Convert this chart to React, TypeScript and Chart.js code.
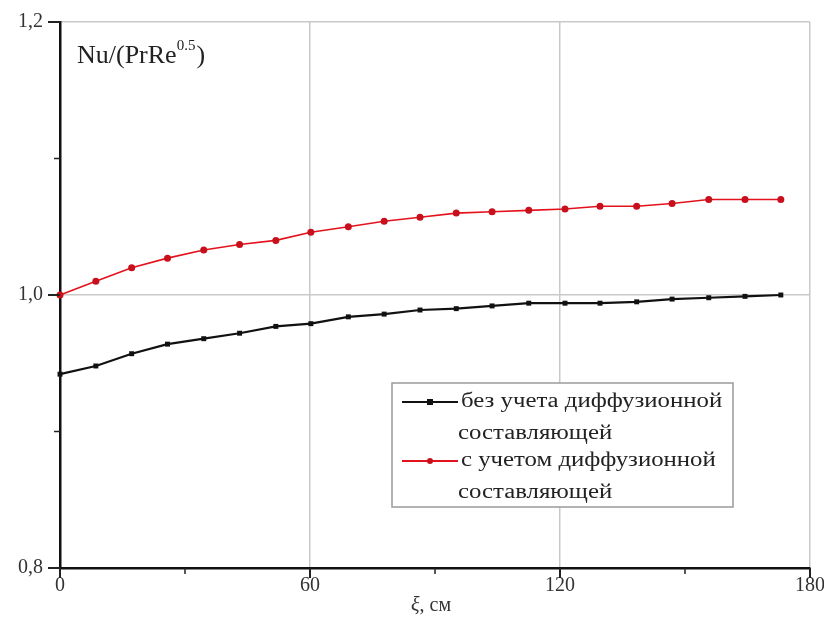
import React, { useEffect, useRef } from "react";
import { Chart, registerables } from "chart.js";

Chart.register(...registerables);

const xValues = [0, 8.6, 17.2, 25.8, 34.5, 43.1, 51.8, 60.2, 69.2, 77.8, 86.4, 95.1, 103.7, 112.5, 121.2, 129.6, 138.4, 146.9, 155.7, 164.4, 173];
const withoutDiffusion = [0.942, 0.948, 0.957, 0.964, 0.968, 0.972, 0.977, 0.979, 0.984, 0.986, 0.989, 0.990, 0.992, 0.994, 0.994, 0.994, 0.995, 0.997, 0.998, 0.999, 1.0];
const withDiffusion = [1.0, 1.010, 1.020, 1.027, 1.033, 1.037, 1.040, 1.046, 1.050, 1.054, 1.057, 1.060, 1.061, 1.062, 1.063, 1.065, 1.065, 1.067, 1.070, 1.070, 1.070];

const seriesNames = [
  ["без учета диффузионной", "составляющей"],
  ["с учетом диффузионной", "составляющей"],
];
const xMajorTicks = [0, 60, 120, 180];
const yMajorTicks = [0.8, 1.0, 1.2];
const xTitleItalic = "ξ";
const xTitleRest = ", см";
const yLabelMain = "Nu/(PrRe";
const yLabelSup = "0.5";
const yLabelEnd = ")";

const FONT = '"Liberation Serif", "Times New Roman", serif';
const BLACK = "#111111";
const RED = "#e3121d";
const GRID = "#c9c9c9";

const near = (a: number, list: number[]) => list.some((v) => Math.abs(v - a) < 1e-6);

const stretchText = (ctx: any, text: string, x: number, y: number, sx: number) => {
  ctx.save();
  ctx.translate(x, y);
  ctx.scale(sx, 1);
  ctx.fillText(text, 0, 0);
  ctx.restore();
};

const decor = {
  id: "decor",
  afterDraw(chart: any) {
    const ctx = chart.ctx;
    const xs = chart.scales.x;
    const ys = chart.scales.y;
    const area = chart.chartArea;
    ctx.save();
    // y ticks
    ctx.strokeStyle = "#222";
    ys.ticks.forEach((t: any) => {
      const py = ys.getPixelForValue(t.value);
      const major = near(t.value, yMajorTicks);
      ctx.lineWidth = major ? 2 : 1.5;
      ctx.beginPath();
      ctx.moveTo(area.left - (major ? 12 : 6), py);
      ctx.lineTo(area.left, py);
      ctx.stroke();
    });
    xs.ticks.forEach((t: any) => {
      const px = xs.getPixelForValue(t.value);
      const major = near(t.value, xMajorTicks);
      ctx.lineWidth = major ? 2 : 1.5;
      ctx.beginPath();
      ctx.moveTo(px, area.bottom);
      ctx.lineTo(px, area.bottom + (major ? 10 : 6));
      ctx.stroke();
    });

    // x title
    ctx.fillStyle = "#333";
    ctx.textBaseline = "middle";
    ctx.font = `italic 20px ${FONT}`;
    const w1 = ctx.measureText(xTitleItalic).width;
    ctx.font = `20px ${FONT}`;
    const w2 = ctx.measureText(xTitleRest).width;
    const cx = (area.left + area.right) / 2 - 4;
    const ty = 606;
    ctx.textAlign = "left";
    ctx.font = `italic 20px ${FONT}`;
    ctx.fillText(xTitleItalic, cx - (w1 + w2) / 2, ty);
    ctx.font = `20px ${FONT}`;
    ctx.fillText(xTitleRest, cx - (w1 + w2) / 2 + w1, ty);

    // y label inside plot
    ctx.fillStyle = "#222";
    ctx.textBaseline = "alphabetic";
    ctx.font = `26px ${FONT}`;
    let lx = area.left + 17;
    const ly = 63;
    ctx.fillText(yLabelMain, lx, ly);
    lx += ctx.measureText(yLabelMain).width;
    ctx.font = `15px ${FONT}`;
    ctx.fillText(yLabelSup, lx, ly - 13);
    lx += ctx.measureText(yLabelSup).width + 1;
    ctx.font = `26px ${FONT}`;
    ctx.fillText(yLabelEnd, lx, ly);

    // legend
    const bx = 392, by = 383, bw = 341, bh = 124;
    ctx.fillStyle = "#ffffff";
    ctx.fillRect(bx, by, bw, bh);
    ctx.strokeStyle = "#9a9a9a";
    ctx.lineWidth = 1.5;
    ctx.strokeRect(bx, by, bw, bh);
    const entries = [
      { color: BLACK, point: "rect", ly: 402, lines: seriesNames[0] },
      { color: RED, point: "circle", ly: 461, lines: seriesNames[1] },
    ];
    entries.forEach((e) => {
      ctx.strokeStyle = e.color;
      ctx.lineWidth = 2;
      ctx.beginPath();
      ctx.moveTo(402, e.ly);
      ctx.lineTo(458, e.ly);
      ctx.stroke();
      ctx.fillStyle = e.color === RED ? "#c80f1c" : BLACK;
      if (e.point === "rect") ctx.fillRect(427, e.ly - 3, 6, 6);
      else {
        ctx.beginPath();
        ctx.arc(430, e.ly, 3, 0, Math.PI * 2);
        ctx.fill();
      }
      ctx.fillStyle = "#222";
      ctx.font = `20px ${FONT}`;
      ctx.textBaseline = "middle";
      ctx.textAlign = "left";
      stretchText(ctx, e.lines[0], 461, e.ly, 1.24);
      stretchText(ctx, e.lines[1], 458, e.ly + 32, 1.24);
    });
    ctx.restore();
  },
};

export default function App() {
  const ref = useRef<HTMLCanvasElement | null>(null);
  useEffect(() => {
    document.body.style.margin = "0";
    const canvas = ref.current!;
    const chart = new Chart(canvas, {
      type: "line",
      data: {
        datasets: [
          {
            label: seriesNames[0].join(" "),
            data: xValues.map((x, i) => ({ x, y: withoutDiffusion[i] })),
            borderColor: BLACK,
            backgroundColor: BLACK,
            borderWidth: 2.2,
            pointStyle: "rect",
            pointRadius: 3.5,
            pointBorderWidth: 0,
            clip: false,
          },
          {
            label: seriesNames[1].join(" "),
            data: xValues.map((x, i) => ({ x, y: withDiffusion[i] })),
            borderColor: RED,
            backgroundColor: "#c80f1c",
            borderWidth: 1.6,
            pointStyle: "circle",
            pointRadius: 3.5,
            pointBorderWidth: 0,
            clip: false,
          },
        ],
      },
      options: {
        responsive: false,
        animation: false,
        layout: { padding: { top: 22, right: 14, left: 0, bottom: 0 } },
        plugins: { legend: { display: false }, tooltip: { enabled: false } },
        scales: {
          x: {
            type: "linear",
            min: 0,
            max: 180,
            afterFit: (s: any) => {
              s.height = 65;
              s.paddingLeft = 0;
              s.paddingRight = 0;
            },
            afterBuildTicks: (s: any) => {
              s.ticks = [0, 30, 60, 90, 120, 150, 180].map((v) => ({ value: v }));
            },
            ticks: {
              padding: 6,
              color: "#333",
              font: { family: FONT, size: 20 },
              maxRotation: 0,
              callback: (v: any) => (near(Number(v), xMajorTicks) ? String(v) : ""),
            },
            grid: {
              drawTicks: false,
              lineWidth: 1.5,
              color: (c: any) => (c.tick && near(c.tick.value, [60, 120, 180]) ? GRID : "rgba(0,0,0,0)"),
            },
            border: { color: "#111", width: 2.5 },
          },
          y: {
            type: "linear",
            min: 0.8,
            max: 1.2,
            afterFit: (s: any) => {
              s.width = 60;
              s.paddingTop = 0;
              s.paddingBottom = 0;
            },
            afterBuildTicks: (s: any) => {
              s.ticks = [0.8, 0.9, 1.0, 1.1, 1.2].map((v) => ({ value: v }));
            },
            ticks: {
              padding: 17,
              color: "#333",
              font: { family: FONT, size: 20 },
              callback: (v: any) => (near(Number(v), yMajorTicks) ? Number(v).toFixed(1).replace(".", ",") : ""),
            },
            grid: {
              drawTicks: false,
              lineWidth: 1.5,
              color: (c: any) => (c.tick && near(c.tick.value, [1.0, 1.2]) ? GRID : "rgba(0,0,0,0)"),
            },
            border: { color: "#111", width: 2.5 },
          },
        },
      },
      plugins: [decor],
    } as any);
    return () => chart.destroy();
  }, []);
  return <canvas ref={ref} width={824} height={633} style={{ display: "block" }} />;
}
